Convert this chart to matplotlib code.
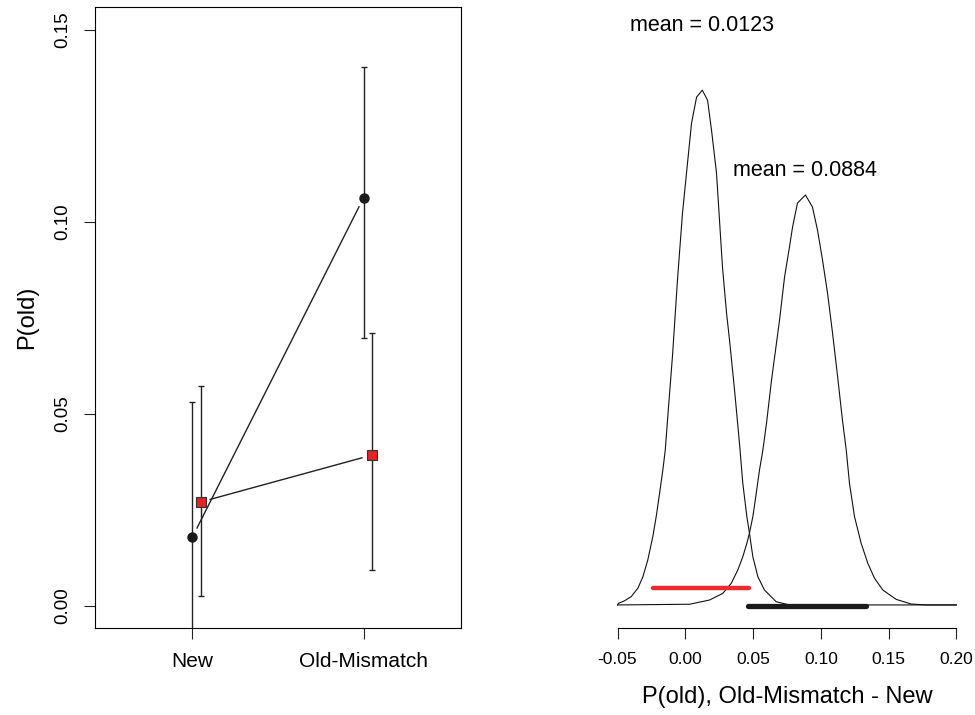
import numpy as np
import matplotlib.pyplot as plt

plt.rcParams['font.family'] = ['Liberation Sans', 'DejaVu Sans']

# left panel: P(old) by condition, two series with intervals
conditions = ['New', 'Old-Mismatch']
black_mean = [0.0180, 0.1063]
black_lo = [-0.0120, 0.0698]
black_hi = [0.0531, 0.1404]
red_mean = [0.0271, 0.0393]
red_lo = [0.0026, 0.0094]
red_hi = [0.0573, 0.0711]

# right panel: posterior densities of the difference
dens1_x = [-0.0500, -0.0493, -0.0448, -0.0399, -0.0350, -0.0313, -0.0277, -0.0240,
           -0.0215, -0.0190, -0.0166, -0.0148, -0.0124, -0.0094, -0.0058, -0.0021,
           0.0016, 0.0046, 0.0083, 0.0125, 0.0164, 0.0193, 0.0230, 0.0252,
           0.0274, 0.0304, 0.0326, 0.0363, 0.0400, 0.0424, 0.0454, 0.0473,
           0.0498, 0.0535, 0.0584, 0.0670, 0.0768, 0.2000]
dens1_y = [0.00, 0.07, 0.18, 0.36, 0.72, 1.21, 1.93, 2.93,
           3.79, 4.79, 5.79, 6.65, 8.50, 10.75, 13.95, 16.82,
           18.97, 20.69, 21.80, 22.10, 21.67, 20.39, 18.54, 16.52,
           14.51, 12.53, 11.37, 9.23, 6.90, 5.22, 3.79, 3.08,
           2.07, 1.21, 0.64, 0.14, 0.00, 0.00]
dens2_x = [-0.0500, 0.0031, 0.0178, 0.0277, 0.0339, 0.0387, 0.0424, 0.0454,
           0.0473, 0.0498, 0.0523, 0.0547, 0.0572, 0.0599, 0.0636, 0.0695,
           0.0732, 0.0768, 0.0791, 0.0827, 0.0886, 0.0938, 0.0975, 0.1012,
           0.1049, 0.1086, 0.1122, 0.1159, 0.1187, 0.1211, 0.1248, 0.1297,
           0.1346, 0.1395, 0.1457, 0.1555, 0.1666, 0.1777, 0.2000]
dens2_y = [0.00, 0.03, 0.21, 0.50, 0.93, 1.50, 2.07, 2.65,
           3.08, 3.79, 4.79, 5.79, 6.65, 7.81, 9.66, 12.23,
           14.08, 15.36, 16.22, 17.25, 17.60, 17.08, 16.09, 14.81,
           13.39, 11.67, 9.87, 7.94, 6.65, 5.22, 3.79, 2.65,
           1.79, 1.15, 0.64, 0.24, 0.04, 0.00, 0.00]
means = [0.0123, 0.0884]
hdi_red = [-0.0242, 0.0473]
hdi_black = [0.0459, 0.1336]
xticks_r = [-0.05, 0.00, 0.05, 0.10, 0.15, 0.20]

fig = plt.figure(figsize=(9.75, 7.15), dpi=100)

# ---- left panel
ax = fig.add_axes([95/975, 1-628/715, 366/975, 621/715])
ax.set_xlim(0.43, 2.57)
ax.set_ylim(-0.0057, 0.156)
xb = np.array([1, 2])
xr = xb + 0.047

ax.errorbar(xb, black_mean, yerr=[np.subtract(black_mean, black_lo), np.subtract(black_hi, black_mean)],
            fmt='none', ecolor='#222222', elinewidth=1, capsize=2.5, capthick=1)
ax.errorbar(xr, red_mean, yerr=[np.subtract(red_mean, red_lo), np.subtract(red_hi, red_mean)],
            fmt='none', ecolor='#222222', elinewidth=1, capsize=2.5, capthick=1)

fig.canvas.draw()
def gap_line(x, y, gap=10):
    # R type="b" style: leave a small gap around each point
    p = ax.transData.transform(np.column_stack([x, y]))
    d = p[1] - p[0]
    u = d / np.hypot(*d)
    q = np.array([p[0] + u*gap, p[1] - u*gap])
    q = ax.transData.inverted().transform(q)
    ax.plot(q[:, 0], q[:, 1], color='#222222', lw=1)

gap_line(xb, black_mean)
gap_line(xr, red_mean)
ax.plot(xb, black_mean, 'o', color='#1a1a1a', ms=6.5, zorder=5)
ax.plot(xr, red_mean, 's', color='#e32222', mec='#333333', mew=0.8, ms=6.5, zorder=5)

ax.set_xticks(xb)
ax.set_xticklabels(conditions, fontsize=15)
ax.set_yticks([0, 0.05, 0.10, 0.15])
ax.set_yticklabels(['0.00', '0.05', '0.10', '0.15'], rotation=90, va='center', fontsize=13.5)
ax.tick_params(length=8, width=0.8, color='#222222', pad=9)
ax.set_ylabel('P(old)', fontsize=17, labelpad=12)
for s in ax.spines.values():
    s.set_linewidth(0.8)

# ---- right panel
ax2 = fig.add_axes([604/975, 1-628/715, 366/975, 621/715])
ax2.set_xlim(-0.06, 0.21)
ax2.set_ylim(-0.99, 25.67)
ax2.plot(dens1_x, dens1_y, color='#111111', lw=0.8)
ax2.plot(dens2_x, dens2_y, color='#111111', lw=0.8)
ax2.plot(hdi_red, [0.73, 0.73], color='#ee2a2a', lw=3.2, solid_capstyle='round')
ax2.plot(hdi_black, [-0.04, -0.04], color='#1a1a1a', lw=3.8, solid_capstyle='round')
ax2.text(means[0], 24.64, 'mean = %.4f' % means[0], ha='center', va='baseline', fontsize=15.5)
ax2.text(means[1], 18.41, 'mean = %.4f' % means[1], ha='center', va='baseline', fontsize=15.5)

for side in ['left', 'top', 'right']:
    ax2.spines[side].set_visible(False)
ax2.spines['bottom'].set_bounds(-0.05, 0.20)
ax2.spines['bottom'].set_linewidth(0.8)
ax2.set_yticks([])
ax2.set_xticks(xticks_r)
ax2.set_xticklabels(['%.2f' % v for v in xticks_r], fontsize=12.5)
ax2.tick_params(length=8, width=0.8, color='#222222', pad=9)
ax2.set_xlabel('P(old), Old-Mismatch - New', fontsize=17, labelpad=14)

fig.savefig('out.png', dpi=100)
